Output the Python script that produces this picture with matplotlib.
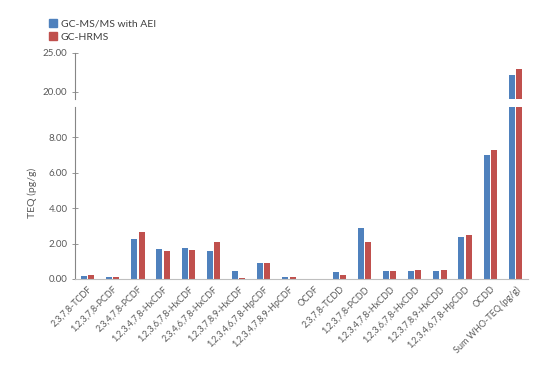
import matplotlib
matplotlib.use("Agg")
import matplotlib.pyplot as plt
import numpy as np
from matplotlib.patches import Patch

plt.rcParams["font.family"] = ["Lato", "DejaVu Sans"]

congeners = [
    "2,3,7,8-TCDF", "1,2,3,7,8-PCDF", "2,3,4,7,8-PCDF", "1,2,3,4,7,8-HxCDF",
    "1,2,3,6,7,8-HxCDF", "2,3,4,6,7,8-HxCDF", "1,2,3,7,8,9-HxCDF",
    "1,2,3,4,6,7,8-HpCDF", "1,2,3,4,7,8,9-HpCDF", "OCDF", "2,3,7,8-TCDD",
    "1,2,3,7,8-PCDD", "1,2,3,4,7,8-HxCDD", "1,2,3,6,7,8-HxCDD",
    "1,2,3,7,8,9-HxCDD", "1,2,3,4,6,7,8-HpCDD", "OCDD", "Sum WHO-TEQ (pg/g)",
]
msms_aei = [0.18, 0.13, 2.25, 1.70, 1.76, 1.57, 0.45, 0.88, 0.10, 0.01,
            0.38, 2.90, 0.43, 0.46, 0.46, 2.35, 6.97, 22.2]
hrms = [0.24, 0.14, 2.64, 1.59, 1.63, 2.06, 0.05, 0.88, 0.10, 0.01,
        0.22, 2.10, 0.43, 0.49, 0.50, 2.48, 7.25, 22.95]
series_names = ["GC-MS/MS with AEI", "GC-HRMS"]
colors = ["#4F81BD", "#C0504D"]

W, H = 543, 368
fig = plt.figure(figsize=(W / 100, H / 100), dpi=100)

def px_axes(left, top, right, bottom):
    return fig.add_axes([left / W, 1 - bottom / H, (right - left) / W, (bottom - top) / H])

ax_top = px_axes(75, 53, 528, 99)
ax_bot = px_axes(75, 107, 528, 279)

x = np.arange(len(congeners))
width = 0.24
offsets = [-0.145, 0.145]
grey = "#868686"
txt = "#595959"

for ax in (ax_top, ax_bot):
    for vals, off, c in zip([msms_aei, hrms], offsets, colors):
        ax.bar(x + off, vals, width, color=c, linewidth=0)
    ax.set_xlim(-0.5, len(congeners) - 0.5)
    for s in ("top", "right"):
        ax.spines[s].set_visible(False)
    ax.spines["left"].set_color(grey)
    ax.spines["left"].set_linewidth(0.8)
    ax.tick_params(axis="y", direction="inout", length=4, width=0.6,
                   color=grey, labelcolor=txt, labelsize=7)
    ax.yaxis.set_major_formatter(matplotlib.ticker.FormatStrFormatter("%.2f"))

ax_top.set_ylim(19.1, 25)
ax_top.set_yticks([20, 25])
ax_top.spines["bottom"].set_visible(False)
ax_top.set_xticks([])

ax_bot.set_ylim(0, 9.7)
ax_bot.set_yticks([0, 2, 4, 6, 8])
ax_bot.spines["bottom"].set_color("#BFBFBF")
ax_bot.spines["bottom"].set_linewidth(0.8)
ax_bot.set_xticks(x)
ax_bot.set_xticklabels(congeners, rotation=45, ha="right", rotation_mode="anchor",
                       fontsize=6.5, color=txt)
ax_bot.tick_params(axis="x", length=0, pad=4)
ax_bot.set_ylabel("TEQ (pg/g)", fontsize=7.5, color=txt, labelpad=8)

handles = [Patch(color=c) for c in colors]
fig.legend(handles, series_names, loc="upper left", bbox_to_anchor=(40 / W, 1 - 10 / H),
           frameon=False, fontsize=7.5, handlelength=0.7, handleheight=0.7,
           handletextpad=0.4, labelspacing=0.35, labelcolor="#404040")

fig.savefig("out.png", dpi=100)
